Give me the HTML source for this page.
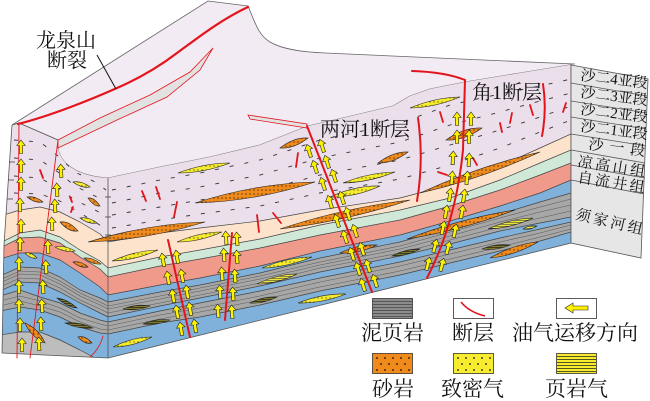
<!DOCTYPE html>
<html><head><meta charset="utf-8"><style>
html,body{margin:0;padding:0;background:#fff;}
svg{display:block;}
.t{font-family:"Liberation Serif","Noto Serif CJK SC",serif;fill:#111;}
</style></head><body>
<svg width="650" height="401" viewBox="0 0 650 401" xmlns="http://www.w3.org/2000/svg">
<defs>
<pattern id="pO" width="4" height="4" patternUnits="userSpaceOnUse"><rect width="4" height="4" fill="#f08a1a"/><circle cx="2" cy="2" r="0.65" fill="#222"/></pattern>
<pattern id="pY" width="4" height="4" patternUnits="userSpaceOnUse"><rect width="4" height="4" fill="#f7ec2c"/><circle cx="2" cy="2" r="0.6" fill="#333"/></pattern>
<pattern id="pS" width="4" height="2" patternUnits="userSpaceOnUse"><rect width="4" height="2" fill="#ebe33c"/><rect width="4" height="0.6" fill="#444"/></pattern>
<pattern id="pD" width="4" height="2" patternUnits="userSpaceOnUse"><rect width="4" height="2" fill="#3e3e1a"/><rect width="4" height="0.6" fill="#a8a040"/></pattern>
<clipPath id="faces"><path d="M12,125 L19,123 L58,140 L58,148 C60,162 75,176 108,178 L160,167 L210,157 L260,145 L308,126 L347,117 L393,106 L410,96 L430,89 L465,82 L520,73 L575,64 L571,66 L571,243 L108,358 L2,353 L4,245 Z"/></clipPath>
<path id="ar" d="M0,-7 L4.2,-1.5 L1.6,-1.5 L1.6,6.5 L-1.6,6.5 L-1.6,-1.5 L-4.2,-1.5 Z" fill="#fff200" stroke="#222" stroke-width="0.6"/>
</defs>

<!-- top surface -->
<path d="M12,125 L208,1 L248,6 C255,22 258,35 270,42 C282,49 300,52 325,53 L575,64 L520,73 L465,82 L430,89 L410,96 L393,106 L347,117 L308,126 L260,145 L210,157 L160,167 L108,178 C75,176 60,162 58,148 L58,140 L19,123 Z" fill="#f3ebf3" stroke="#666" stroke-width="0.8"/>

<!-- faces -->
<g clip-path="url(#faces)">
<rect x="0" y="60" width="580" height="310" fill="#eadfea"/>
<polygon fill="#fde3cc" points="0,216 20,210 40,207 60,212 80,222 100,234 108,242 160,233 200,228 260,221 320,210 400,198 450,185 500,166 540,148 571,134 580,132 580,400 0,400"/>
<polygon fill="#cfe8d7" points="0,243 20,233 40,230 60,237 80,250 100,261 108,268 160,257 200,250 260,239 320,225 400,210 450,198 500,180 540,163 571,150 580,148 580,400 0,400"/>
<polygon fill="#ef9a8b" points="0,248 20,238 40,237 60,243 80,257 100,269 108,277 160,266 200,259 260,248 320,235 400,220 450,206 500,190 540,175 571,163 580,161 580,400 0,400"/>
<polygon fill="#80b1da" points="0,259 20,253 40,253 60,260 80,273 100,287 108,295 160,285 200,278 260,266 320,251 400,235 450,221 500,206 540,193 571,180 580,178 580,400 0,400"/>
<polygon fill="#a7a7a7" points="0,276 20,267 40,268 60,277 80,290 100,298 108,302 160,292 200,285 260,273 320,258 400,242 450,228 500,214 540,202 571,193 580,191 580,215 571,217 540,223 500,231 450,244 400,256 320,272 260,286 200,298 160,306 108,317 100,313 80,303 60,292 40,283 20,282 0,291"/>
<polygon fill="#a7a7a7" points="0,296 20,290 40,297 60,303 80,313 100,320 108,322 160,311 200,303 260,291 320,278 400,262 450,250 500,238 540,229 571,222 580,220 580,230 571,232 540,241 500,251 450,263 400,275 320,291 260,305 200,317 160,323 108,334 100,333 80,327 60,317 40,310 20,307 0,311"/>
<polygon fill="#bdbdbd" points="0,335 20,332 40,332 60,340 80,350 95,358 95,370 0,370"/>
<g fill="none" stroke="#5a5a5a" stroke-width="0.55">
<polyline points="0,280 20,271 40,272 60,281 80,293 100,302 108,306 160,296 200,288 260,276 320,262 400,246 450,232 500,218 540,207 571,199"/>
<polyline points="0,283 20,274 40,275 60,284 80,296 100,305 108,309 160,299 200,291 260,279 320,265 400,249 450,236 500,222 540,212 571,205"/>
<polyline points="0,287 20,278 40,279 60,288 80,300 100,309 108,313 160,303 200,295 260,283 320,268 400,253 450,240 500,227 540,218 571,211"/>
<polyline points="0,301 20,296 40,301 60,308 80,318 100,324 108,326 160,315 200,308 260,296 320,282 400,266 450,254 500,242 540,233 571,225"/>
<polyline points="0,306 20,301 40,306 60,312 80,322 100,329 108,330 160,319 200,312 260,300 320,287 400,271 450,259 500,247 540,237 571,229"/>
</g>
<g fill="none" stroke="#444" stroke-width="0.7">
<polyline points="0,216 20,210 40,207 60,212 80,222 100,234 108,242 160,233 200,228 260,221 320,210 400,198 450,185 500,166 540,148 571,134"/>
<polyline points="0,243 20,233 40,230 60,237 80,250 100,261 108,268 160,257 200,250 260,239 320,225 400,210 450,198 500,180 540,163 571,150"/>
<polyline points="0,248 20,238 40,237 60,243 80,257 100,269 108,277 160,266 200,259 260,248 320,235 400,220 450,206 500,190 540,175 571,163"/>
<polyline points="0,259 20,253 40,253 60,260 80,273 100,287 108,295 160,285 200,278 260,266 320,251 400,235 450,221 500,206 540,193 571,180"/>
<polyline points="0,276 20,267 40,268 60,277 80,290 100,298 108,302 160,292 200,285 260,273 320,258 400,242 450,228 500,214 540,202 571,193"/>
<polyline points="0,291 20,282 40,283 60,292 80,303 100,313 108,317 160,306 200,298 260,286 320,272 400,256 450,244 500,231 540,223 571,217"/>
<polyline points="0,296 20,290 40,297 60,303 80,313 100,320 108,322 160,311 200,303 260,291 320,278 400,262 450,250 500,238 540,229 571,222"/>
<polyline points="0,311 20,307 40,310 60,317 80,327 100,333 108,334 160,323 200,317 260,305 320,291 400,275 450,263 500,251 540,241 571,232"/>
<polyline points="0,335 20,332 40,332 60,340 80,350 95,358"/>
</g>
<!-- mudstone dashes -->
<g fill="none" stroke="#333" stroke-width="0.9" stroke-dasharray="4 11">
<polyline points="112,190 160,180 200,173 260,160 320,140 400,123 450,105 500,94 540,86 571,79"/>
<polyline points="112,203 160,193 200,187 260,175 320,158 400,142 450,125 500,112 540,101 571,93"/>
<polyline points="112,215 160,207 200,200 260,191 320,175 400,160 450,145 500,130 540,117 571,106"/>
<polyline points="112,228 160,220 200,214 260,206 320,193 400,179 450,165 500,148 540,132 571,120"/>
<polyline points="14,140 40,142 58,156 75,172 95,182 106,190"/>
<polyline points="14,158 40,160 58,172 75,186 95,196 106,203"/>
<polyline points="14,176 40,178 58,188 75,200 95,210 106,216"/>
<polyline points="14,193 40,194 58,200 75,210 95,222 106,229"/>
</g>
<!-- orange sandstone lenses -->
<g fill="url(#pO)" stroke="#222" stroke-width="0.6">
<path d="M195,203 Q255,183.5 315,182 Q255,201.5 195,203Z"/>
<path d="M88,242 Q146.5,224 205,222 Q146.5,240 88,242Z"/>
<path d="M280,148 Q294,137 308,138 Q294,149 280,148Z"/>
<path d="M378,163 Q393,151.5 408,152 Q393,163.5 378,163Z"/>
<path d="M280,229 Q345,207.5 410,200 Q345,221.5 280,229Z"/>
<path d="M420,193 Q480,165.5 540,152 Q480,179.5 420,193Z"/>
<path d="M407,239 Q461,218.5 515,210 Q461,230.5 407,239Z"/>
<path d="M490,258 Q514,244 538,242 Q514,256 490,258Z"/>
<path d="M446,140 Q464,127 482,128 Q464,141 446,140Z"/>
<path d="M340,253 Q358.5,244 377,245 Q358.5,254 340,253Z"/>
<path d="M27,197 Q35,195.5 43,202 Q35,203.5 27,197Z"/>
<path d="M60,222 Q69,220.5 78,231 Q69,232.5 60,222Z"/>
<path d="M88,198 Q94,197 100,206 Q94,207 88,198Z"/>
<path d="M73,262 Q80.5,260.5 88,267 Q80.5,268.5 73,262Z"/>
<path d="M84,258 Q92.5,257 101,264 Q92.5,265 84,258Z"/>
<path d="M78,337 Q85,335 92,343 Q85,345 78,337Z"/>
<path d="M25,323 Q39,329 45,343 Q31,337 25,323Z"/>
</g>
<!-- tight gas lenses -->
<g fill="url(#pY)" stroke="#222" stroke-width="0.6">
<path d="M178,173 Q204,163 230,163 Q204,173 178,173Z"/>
<path d="M410,108 Q435,97.5 460,97 Q435,107.5 410,108Z"/>
<path d="M343,183 Q369,172.5 395,172 Q369,182.5 343,183Z"/>
<path d="M330,197 Q355,185.5 380,186 Q355,197.5 330,197Z"/>
<path d="M177,242 Q199.5,232 222,232 Q199.5,242 177,242Z"/>
<path d="M112,261 Q135,250.5 158,250 Q135,260.5 112,261Z"/>
<path d="M262,268 Q287,257.5 312,257 Q287,267.5 262,268Z"/>
<path d="M298,303 Q322,293.5 346,294 Q322,303.5 298,303Z"/>
<path d="M113,347 Q132.5,337 152,337 Q132.5,347 113,347Z"/>
<path d="M73,182 Q81.5,180.5 90,187 Q81.5,188.5 73,182Z"/>
<path d="M80,218 Q88.5,216.5 97,223 Q88.5,224.5 80,218Z"/>
<path d="M55,247 Q65,245 75,251 Q65,253 55,247Z"/>
<path d="M25,253 Q31,251.5 37,258 Q31,259.5 25,253Z"/>
</g>
<!-- shale gas lenses -->
<g stroke="#222" stroke-width="0.6">
<path fill="url(#pD)" d="M57,298 Q67,299 77,308 Q67,307 57,298Z"/>
<path fill="url(#pD)" d="M65,323 Q79,321.5 93,328 Q79,329.5 65,323Z"/>
<path fill="url(#pD)" d="M123,309 Q136.5,303.5 150,306 Q136.5,311.5 123,309Z"/>
<path fill="url(#pD)" d="M143,324 Q156.5,318 170,320 Q156.5,326 143,324Z"/>
<path fill="url(#pD)" d="M250,303 Q263.5,296 277,297 Q263.5,304 250,303Z"/>
<path fill="url(#pD)" d="M392,256 Q406,248.5 420,249 Q406,256.5 392,256Z"/>
<path fill="url(#pD)" d="M482,249 Q496,243 510,245 Q496,251 482,249Z"/>
<path fill="url(#pS)" d="M257,284 Q277,274 297,274 Q277,284 257,284Z"/>
<path fill="url(#pS)" d="M488,229 Q510.5,218.5 533,218 Q510.5,228.5 488,229Z"/>
<path fill="url(#pS)" d="M523,229 Q530,224.5 537,226 Q530,230.5 523,229Z"/>
</g>
</g>

<!-- face edges -->
<g fill="none" stroke="#555" stroke-width="0.8">
<polyline points="12,125 4,245 2,353 108,358 571,243 571,65"/>
<line x1="108" y1="178" x2="108" y2="358"/>
<polyline points="12,125 19,123 58,140"/>
</g>
<g stroke="#444" stroke-width="0.8">
<line x1="105" y1="197" x2="111" y2="197"/><line x1="105" y1="217" x2="111" y2="217"/><line x1="105" y1="235" x2="111" y2="235"/>
<line x1="9" y1="162" x2="15" y2="162"/><line x1="8" y1="180" x2="14" y2="180"/><line x1="7" y1="199" x2="13" y2="199"/>
</g>

<!-- side panel -->
<polygon points="571,65 648,79 641,258 571,243" fill="#e6e6e6" stroke="#555" stroke-width="0.8"/>
<g stroke="#555" stroke-width="0.8">
<line x1="571" y1="83" x2="647" y2="96"/>
<line x1="571" y1="101" x2="647" y2="113"/>
<line x1="571" y1="117" x2="646" y2="129"/>
<line x1="571" y1="134" x2="646" y2="146"/>
<line x1="571" y1="150" x2="645" y2="163"/>
<line x1="571" y1="165" x2="645" y2="178"/>
<line x1="571" y1="180" x2="644" y2="194"/>
</g>
<g class="t" font-size="15">
<text x="580" y="80" transform="rotate(7 580 80)">沙二4亚段</text>
<text x="580" y="97" transform="rotate(7 580 97)">沙二3亚段</text>
<text x="580" y="114" transform="rotate(7 580 114)">沙二2亚段</text>
<text x="580" y="131" transform="rotate(7 580 131)">沙二1亚段</text>
<text x="588" y="149" letter-spacing="6" transform="rotate(7 588 149)">沙一段</text>
<text x="577" y="166" letter-spacing="2.7" transform="rotate(9 577 166)">凉高山组</text>
<text x="577" y="182" letter-spacing="2.5" transform="rotate(9 577 182)">自流井组</text>
<text x="575" y="219" letter-spacing="2.7" transform="rotate(13 575 219)">须家河组</text>
</g>

<!-- fault strips on top -->
<polygon points="58,140 100,118 150,95 190,72 213,48 200,70 167,97 117,120 58,148" fill="#e2e2e2" stroke="#e3141c" stroke-width="0.8"/>
<polygon points="248,115 307,124 307,128 250,119" fill="#e2e2e2" stroke="#e3141c" stroke-width="0.8"/>

<!-- faults -->
<g fill="none" stroke="#e3141c" stroke-linecap="round">
<path d="M18,124 C50,116 90,100 117,88 C140,78 160,66 177,53 C195,40 220,20 248,7" stroke-width="2.2"/>
<path d="M19,123 L17,358" stroke-width="0.9"/>
<path d="M58,140 L30,358" stroke-width="0.9"/>
<path d="M90,357 Q100,348 103,336" stroke-width="0.8"/>
<path d="M168,240 L190,337" stroke-width="2"/>
<path d="M232,233 L225,320" stroke-width="2"/>
<path d="M307,126 L372,292" stroke-width="2"/>
<path d="M412,71 Q445,72 465,80 L463,150 Q456,222 427,278" stroke-width="2"/>
<path d="M418,118 Q424,160 417,201" stroke-width="2"/>
<path d="M543,84 Q547,110 542,136" stroke-width="2"/>
<g stroke-width="1.8">
<line x1="40" y1="170" x2="43" y2="178"/>
<line x1="70" y1="197" x2="72" y2="202"/>
<line x1="73" y1="207" x2="71" y2="212"/>
<line x1="142" y1="191" x2="146" y2="201"/>
<line x1="156" y1="187" x2="160" y2="199"/>
<line x1="177" y1="202" x2="174" y2="217"/>
<line x1="257" y1="215" x2="259" y2="232"/>
<line x1="273" y1="213" x2="281" y2="223"/>
<line x1="298" y1="153" x2="296" y2="167"/>
<line x1="440" y1="112" x2="443" y2="122"/>
<line x1="473" y1="158" x2="477" y2="165"/>
<line x1="438" y1="172" x2="447" y2="175"/>
<line x1="500" y1="123" x2="502" y2="132"/>
<line x1="512" y1="113" x2="510" y2="123"/>
<line x1="530" y1="105" x2="533" y2="115"/>
<line x1="566" y1="103" x2="563" y2="112"/>
</g>
</g>

<!-- arrows -->
<g>
<use href="#ar" transform="translate(21,147)"/><use href="#ar" transform="translate(21,166)"/><use href="#ar" transform="translate(21,184)"/><use href="#ar" transform="translate(20,205)"/><use href="#ar" transform="translate(21,226)"/><use href="#ar" transform="translate(20,244)"/><use href="#ar" transform="translate(19,264)"/><use href="#ar" transform="translate(19,287)"/><use href="#ar" transform="translate(19,306)"/><use href="#ar" transform="translate(20,325)"/><use href="#ar" transform="translate(22,345)"/>
<use href="#ar" transform="translate(61,171) rotate(-3)"/><use href="#ar" transform="translate(57,190) rotate(-3)"/><use href="#ar" transform="translate(55,206) rotate(-3)"/><use href="#ar" transform="translate(52,224) rotate(-3)"/><use href="#ar" transform="translate(48,247) rotate(-3)"/><use href="#ar" transform="translate(46,267) rotate(-3)"/><use href="#ar" transform="translate(43,287) rotate(-3)"/><use href="#ar" transform="translate(42,306) rotate(-3)"/><use href="#ar" transform="translate(41,324) rotate(-3)"/><use href="#ar" transform="translate(39,344) rotate(-3)"/>
<use href="#ar" transform="translate(163,260) rotate(-10)"/><use href="#ar" transform="translate(177,257) rotate(-10)"/><use href="#ar" transform="translate(168,278) rotate(-10)"/><use href="#ar" transform="translate(182,276) rotate(-10)"/><use href="#ar" transform="translate(173,296) rotate(-10)"/><use href="#ar" transform="translate(187,292) rotate(-10)"/><use href="#ar" transform="translate(177,312) rotate(-10)"/><use href="#ar" transform="translate(190,309) rotate(-10)"/><use href="#ar" transform="translate(181,329) rotate(-10)"/><use href="#ar" transform="translate(195,326) rotate(-10)"/>
<use href="#ar" transform="translate(226,238) rotate(-4)"/><use href="#ar" transform="translate(237,239) rotate(-4)"/><use href="#ar" transform="translate(224,255) rotate(-4)"/><use href="#ar" transform="translate(237,257) rotate(-4)"/><use href="#ar" transform="translate(222,274) rotate(-4)"/><use href="#ar" transform="translate(235,276) rotate(-4)"/><use href="#ar" transform="translate(220,292) rotate(-4)"/><use href="#ar" transform="translate(233,294) rotate(-4)"/><use href="#ar" transform="translate(218,311) rotate(-4)"/><use href="#ar" transform="translate(232,312) rotate(-4)"/>
<use href="#ar" transform="translate(309,151) rotate(-18)"/><use href="#ar" transform="translate(322,146) rotate(-18)"/><use href="#ar" transform="translate(315,167) rotate(-18)"/><use href="#ar" transform="translate(327,162) rotate(-18)"/><use href="#ar" transform="translate(323,184) rotate(-18)"/><use href="#ar" transform="translate(334,176) rotate(-18)"/><use href="#ar" transform="translate(330,202) rotate(-18)"/><use href="#ar" transform="translate(342,198) rotate(-18)"/><use href="#ar" transform="translate(337,221) rotate(-18)"/><use href="#ar" transform="translate(348,214) rotate(-18)"/><use href="#ar" transform="translate(345,237) rotate(-18)"/><use href="#ar" transform="translate(355,231) rotate(-18)"/><use href="#ar" transform="translate(352,254) rotate(-18)"/><use href="#ar" transform="translate(362,249) rotate(-18)"/><use href="#ar" transform="translate(358,269) rotate(-18)"/><use href="#ar" transform="translate(368,266) rotate(-18)"/><use href="#ar" transform="translate(363,285) rotate(-18)"/><use href="#ar" transform="translate(375,281) rotate(-18)"/>
<use href="#ar" transform="translate(457,119)"/><use href="#ar" transform="translate(471,119)"/><use href="#ar" transform="translate(457,137)"/><use href="#ar" transform="translate(469,137)"/><use href="#ar" transform="translate(453,158) rotate(3)"/><use href="#ar" transform="translate(469,160) rotate(3)"/><use href="#ar" transform="translate(452,178) rotate(5)"/><use href="#ar" transform="translate(467,178) rotate(5)"/><use href="#ar" transform="translate(450,195) rotate(8)"/><use href="#ar" transform="translate(464,196) rotate(8)"/><use href="#ar" transform="translate(446,212) rotate(10)"/><use href="#ar" transform="translate(462,212) rotate(10)"/><use href="#ar" transform="translate(443,228) rotate(12)"/><use href="#ar" transform="translate(455,231) rotate(12)"/><use href="#ar" transform="translate(435,246) rotate(15)"/><use href="#ar" transform="translate(448,248) rotate(15)"/><use href="#ar" transform="translate(428,264) rotate(15)"/><use href="#ar" transform="translate(442,265) rotate(15)"/>
</g>

<!-- labels -->
<line x1="97" y1="55" x2="116" y2="89" stroke="#111" stroke-width="1"/>
<g class="t" font-size="20">
<text x="36" y="47">龙泉山</text>
<text x="47" y="67">断裂</text>
<text x="320" y="136">两河1断层</text>
<text x="472" y="99">角1断层</text>
</g>

<!-- legend -->
<rect x="372.5" y="298.5" width="40" height="20" fill="#8c8c8c" stroke="#333" stroke-width="0.8"/>
<g stroke="#444" stroke-width="0.7"><line x1="373" y1="301.5" x2="412" y2="301.5"/><line x1="373" y1="304.5" x2="412" y2="304.5"/><line x1="373" y1="307.5" x2="412" y2="307.5"/><line x1="373" y1="310.5" x2="412" y2="310.5"/><line x1="373" y1="313.5" x2="412" y2="313.5"/><line x1="373" y1="316.5" x2="412" y2="316.5"/></g>
<rect x="453.5" y="298.5" width="40" height="20" fill="#fff" stroke="#333" stroke-width="0.8"/>
<path d="M461,302 Q469,312 485,316" fill="none" stroke="#e3141c" stroke-width="1.5"/>
<rect x="556.5" y="298.5" width="40" height="20" fill="#fff" stroke="#333" stroke-width="0.8"/>
<path d="M565,308 L573,303 L573,306 L588,306 L588,310 L573,310 L573,313 Z" fill="#fff200" stroke="#222" stroke-width="0.6"/>
<rect x="372.5" y="353.5" width="40" height="20" fill="#f08a1a" stroke="#333" stroke-width="0.8"/>
<g fill="#111"><circle cx="377" cy="358" r="0.9"/><circle cx="385" cy="358" r="0.9"/><circle cx="393" cy="358" r="0.9"/><circle cx="401" cy="358" r="0.9"/><circle cx="409" cy="358" r="0.9"/><circle cx="381" cy="364" r="0.9"/><circle cx="389" cy="364" r="0.9"/><circle cx="397" cy="364" r="0.9"/><circle cx="405" cy="364" r="0.9"/><circle cx="377" cy="370" r="0.9"/><circle cx="385" cy="370" r="0.9"/><circle cx="393" cy="370" r="0.9"/><circle cx="401" cy="370" r="0.9"/><circle cx="409" cy="370" r="0.9"/></g>
<rect x="453.5" y="353.5" width="40" height="20" fill="#f8ec2e" stroke="#333" stroke-width="0.8"/>
<g fill="#111"><circle cx="458" cy="358" r="0.9"/><circle cx="466" cy="358" r="0.9"/><circle cx="474" cy="358" r="0.9"/><circle cx="482" cy="358" r="0.9"/><circle cx="490" cy="358" r="0.9"/><circle cx="462" cy="364" r="0.9"/><circle cx="470" cy="364" r="0.9"/><circle cx="478" cy="364" r="0.9"/><circle cx="486" cy="364" r="0.9"/><circle cx="458" cy="370" r="0.9"/><circle cx="466" cy="370" r="0.9"/><circle cx="474" cy="370" r="0.9"/><circle cx="482" cy="370" r="0.9"/><circle cx="490" cy="370" r="0.9"/></g>
<rect x="556.5" y="353.5" width="40" height="20" fill="#f8ec2e" stroke="#333" stroke-width="0.8"/>
<g stroke="#222" stroke-width="0.7"><line x1="557" y1="356.5" x2="596" y2="356.5"/><line x1="557" y1="359.5" x2="596" y2="359.5"/><line x1="557" y1="362.5" x2="596" y2="362.5"/><line x1="557" y1="365.5" x2="596" y2="365.5"/><line x1="557" y1="368.5" x2="596" y2="368.5"/><line x1="557" y1="371.5" x2="596" y2="371.5"/></g>
<g class="t" font-size="21">
<text x="361" y="340">泥页岩</text>
<text x="452" y="340">断层</text>
<text x="512" y="340">油气运移方向</text>
<text x="372" y="396">砂岩</text>
<text x="441" y="396">致密气</text>
<text x="545" y="396">页岩气</text>
</g>
</svg>
</body></html>
